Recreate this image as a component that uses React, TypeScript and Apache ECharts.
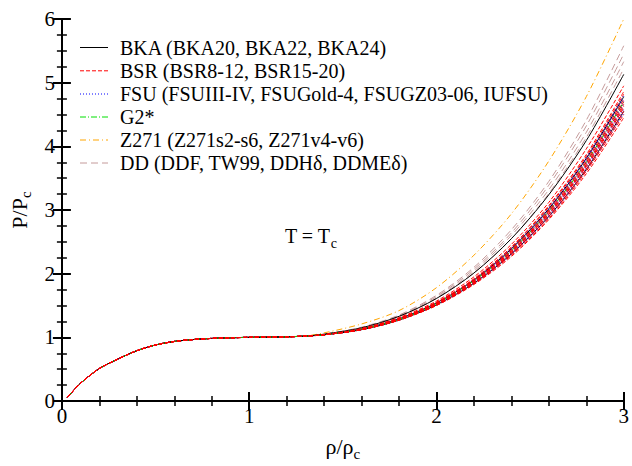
import React, { useEffect, useRef } from "react";
import * as echarts from "echarts";

// shared low-density part (all models coincide there)
const rhoLow = [0.03, 0.1, 0.2, 0.3, 0.4, 0.5, 0.6, 0.7, 0.8, 0.9, 1.0, 1.1, 1.2, 1.3];
const pLow = [0.06, 0.28, 0.51, 0.66, 0.79, 0.88, 0.935, 0.965, 0.983, 0.993, 1.0, 1.003, 1.008, 1.02];
// high-density part
const rhoHigh = [1.4, 1.6, 1.8, 2.0, 2.2, 2.4, 2.6, 2.8, 3.0];

const bka20 = [1.05, 1.15, 1.33, 1.61, 2.01, 2.55, 3.24, 4.09, 5.13];
const bka22 = [1.04, 1.13, 1.29, 1.54, 1.9, 2.39, 3.02, 3.81, 4.78];
const bka24 = [1.04, 1.12, 1.27, 1.51, 1.85, 2.31, 2.9, 3.64, 4.55];

const bsr1 = [1.04, 1.12, 1.27, 1.5, 1.83, 2.27, 2.85, 3.57, 4.45];
const bsr2 = [1.04, 1.12, 1.27, 1.5, 1.84, 2.29, 2.87, 3.61, 4.5];
const bsr3 = [1.04, 1.12, 1.27, 1.51, 1.85, 2.31, 2.9, 3.64, 4.55];
const bsr4 = [1.04, 1.12, 1.28, 1.52, 1.86, 2.33, 2.93, 3.68, 4.6];
const bsr5 = [1.04, 1.12, 1.28, 1.52, 1.87, 2.34, 2.94, 3.7, 4.63];
const bsr6 = [1.04, 1.13, 1.28, 1.53, 1.88, 2.35, 2.96, 3.72, 4.66];
const bsr7 = [1.04, 1.13, 1.28, 1.53, 1.89, 2.36, 2.98, 3.75, 4.7];
const bsr8 = [1.04, 1.13, 1.29, 1.54, 1.89, 2.38, 3.0, 3.78, 4.74];
const bsr9 = [1.04, 1.13, 1.29, 1.55, 1.91, 2.41, 3.05, 3.84, 4.82];
const bsr10 = [1.04, 1.13, 1.3, 1.55, 1.92, 2.42, 3.07, 3.87, 4.86];
const bsr11 = [1.04, 1.14, 1.31, 1.57, 1.95, 2.46, 3.12, 3.96, 4.95];

const fsu1 = [1.04, 1.12, 1.27, 1.51, 1.84, 2.3, 2.89, 3.62, 4.52];
const fsu2 = [1.04, 1.12, 1.275, 1.51, 1.86, 2.32, 2.92, 3.67, 4.58];
const fsu3 = [1.04, 1.12, 1.28, 1.52, 1.87, 2.33, 2.94, 3.7, 4.62];
const fsu4 = [1.04, 1.13, 1.28, 1.53, 1.88, 2.35, 2.97, 3.73, 4.67];
const fsu5 = [1.04, 1.13, 1.29, 1.53, 1.89, 2.37, 2.99, 3.77, 4.72];
const fsu6 = [1.04, 1.13, 1.29, 1.54, 1.9, 2.38, 3.01, 3.8, 4.76];
const fsu7 = [1.04, 1.13, 1.29, 1.55, 1.91, 2.4, 3.04, 3.83, 4.8];

const g2star = [1.04, 1.13, 1.28, 1.53, 1.89, 2.36, 2.98, 3.75, 4.7];

const z271 = [1.07, 1.21, 1.42, 1.78, 2.29, 2.94, 3.77, 4.78, 6.0];

const ddf = [1.05, 1.16, 1.35, 1.66, 2.1, 2.69, 3.45, 4.41, 5.58];
const tw99 = [1.05, 1.15, 1.34, 1.64, 2.07, 2.64, 3.39, 4.32, 5.45];
const ddhd = [1.05, 1.15, 1.33, 1.62, 2.04, 2.6, 3.32, 4.22, 5.33];
const ddmed = [1.05, 1.14, 1.32, 1.61, 2.01, 2.55, 3.26, 4.14, 5.22];

const legendLabels = [
  "BKA (BKA20, BKA22, BKA24)",
  "BSR (BSR8-12, BSR15-20)",
  "FSU (FSUIII-IV, FSUGold-4, FSUGZ03-06, IUFSU)",
  "G2*",
  "Z271 (Z271s2-s6, Z271v4-v6)",
  "DD (DDF, TW99, DDHδ, DDMEδ)",
];

const groups = [
  { label: legendLabels[0], color: "#000000", dash: "solid" as any, curves: [bka20, bka22, bka24], z: 3 },
  { label: legendLabels[1], color: "#ff0000", dash: [4, 2], curves: [bsr1, bsr2, bsr3, bsr4, bsr5, bsr6, bsr7, bsr8, bsr9, bsr10, bsr11], z: 6 },
  { label: legendLabels[2], color: "#0000ff", dash: [1, 2], curves: [fsu1, fsu2, fsu3, fsu4, fsu5, fsu6, fsu7], z: 4 },
  { label: legendLabels[3], color: "#00e000", dash: [6, 2, 1, 2], curves: [g2star], z: 5 },
  { label: legendLabels[4], color: "#ffa500", dash: [6, 3, 1, 3], curves: [z271], z: 2 },
  { label: legendLabels[5], color: "#c49a9a", dash: [7, 4], curves: [ddf, tw99, ddhd, ddmed], z: 1 },
];

const FONT = "Liberation Serif";

export default function App() {
  const ref = useRef<HTMLDivElement>(null);
  useEffect(() => {
    if (!ref.current) return;
    const chart = echarts.init(ref.current, undefined, { renderer: "svg" });
    const rho = rhoLow.concat(rhoHigh);
    const series: any[] = [];
    groups.forEach((g) => {
      g.curves.forEach((c) => {
        const p = pLow.concat(c);
        series.push({
          type: "line",
          data: rho.map((r, i) => [r, p[i]]),
          showSymbol: false,
          smooth: 0.3,
          silent: true,
          z: g.z,
          lineStyle: { color: g.color, width: 1, type: g.dash },
        });
      });
    });

    const axisLine = { show: true, lineStyle: { color: "#000", width: 2 } };
    const tickStyle = { color: "#000", width: 2 };
    const labelStyle = { fontFamily: FONT, fontSize: 21, color: "#000" };

    const legendGraphics: any[] = [];
    const rowY = [47.5, 70.8, 94, 117, 140, 163];
    groups.forEach((g, i) => {
      legendGraphics.push({
        type: "line",
        shape: { x1: 80, y1: rowY[i], x2: 108, y2: rowY[i] },
        style: { stroke: g.color, lineWidth: 1, lineDash: g.dash === "solid" ? null : g.dash },
        z: 10,
      });
      legendGraphics.push({
        type: "text",
        x: 120,
        y: rowY[i],
        style: { text: g.label, fontFamily: FONT, fontSize: 20, fill: "#000", align: "left", verticalAlign: "middle" },
        z: 10,
      });
    });
    legendGraphics.push({
      type: "text",
      x: 285,
      y: 236,
      style: {
        text: "T = T{sub|c}",
        fontFamily: FONT,
        fontSize: 20,
        fill: "#000",
        align: "left",
        verticalAlign: "middle",
        rich: { sub: { fontFamily: FONT, fontSize: 14, padding: [14, 0, 0, 0] } },
      },
      z: 10,
    });

    chart.setOption({
      animation: false,
      textStyle: { fontFamily: FONT },
      grid: { left: 60, right: 8, top: 19, bottom: 53, containLabel: false },
      xAxis: [
        {
          type: "value",
          min: 0,
          max: 3,
          interval: 1,
          position: "bottom",
          axisLine,
          axisTick: { show: true, inside: true, length: 9, lineStyle: tickStyle },
          minorTick: { show: true, splitNumber: 5, length: 5, lineStyle: { color: "#000", width: 1.5 } },
          splitLine: { show: false },
          minorSplitLine: { show: false },
          axisLabel: { ...labelStyle, margin: 4 },
          name: "ρ/ρ{sub|c}",
          nameLocation: "middle",
          nameGap: 31,
          nameTextStyle: {
            fontFamily: FONT,
            fontSize: 22,
            color: "#000",
            rich: { sub: { fontFamily: FONT, fontSize: 15, color: "#000", padding: [14, 0, 0, 0] } },
          },
        },
        {
          type: "value",
          min: 0,
          max: 3,
          interval: 1,
          position: "top",
          axisLine,
          axisTick: { show: true, inside: true, length: 9, lineStyle: tickStyle },
          minorTick: { show: true, splitNumber: 5, length: 5, lineStyle: { color: "#000", width: 1.5 } },
          splitLine: { show: false },
          axisLabel: { show: false },
        },
      ],
      yAxis: [
        {
          type: "value",
          min: 0,
          max: 6,
          interval: 1,
          position: "left",
          axisLine,
          axisTick: { show: true, inside: true, length: 9, lineStyle: tickStyle },
          minorTick: { show: true, splitNumber: 4, length: 5, lineStyle: { color: "#000", width: 1.5 } },
          splitLine: { show: false },
          axisLabel: { ...labelStyle, margin: 7 },
          name: "P/P{sub|c}",
          nameLocation: "middle",
          nameRotate: 90,
          nameGap: 27,
          nameTextStyle: {
            fontFamily: FONT,
            fontSize: 22,
            color: "#000",
            rich: { sub: { fontFamily: FONT, fontSize: 15, color: "#000", padding: [14, 0, 0, 0] } },
          },
        },
        {
          type: "value",
          min: 0,
          max: 6,
          interval: 1,
          position: "right",
          axisLine,
          axisTick: { show: true, inside: true, length: 9, lineStyle: tickStyle },
          minorTick: { show: true, splitNumber: 4, length: 5, lineStyle: { color: "#000", width: 1.5 } },
          splitLine: { show: false },
          axisLabel: { show: false },
        },
      ],
      series,
      graphic: legendGraphics,
    });
    return () => chart.dispose();
  }, []);
  return (
    <>
      <style>{`.chart-root svg text, .chart-root svg tspan { font-family: "Liberation Serif", serif !important; }`}</style>
      <div
        ref={ref}
        className="chart-root"
        style={{ position: "fixed", left: 0, top: 0, width: 632, height: 466, background: "#fff" }}
      />
    </>
  );
}
